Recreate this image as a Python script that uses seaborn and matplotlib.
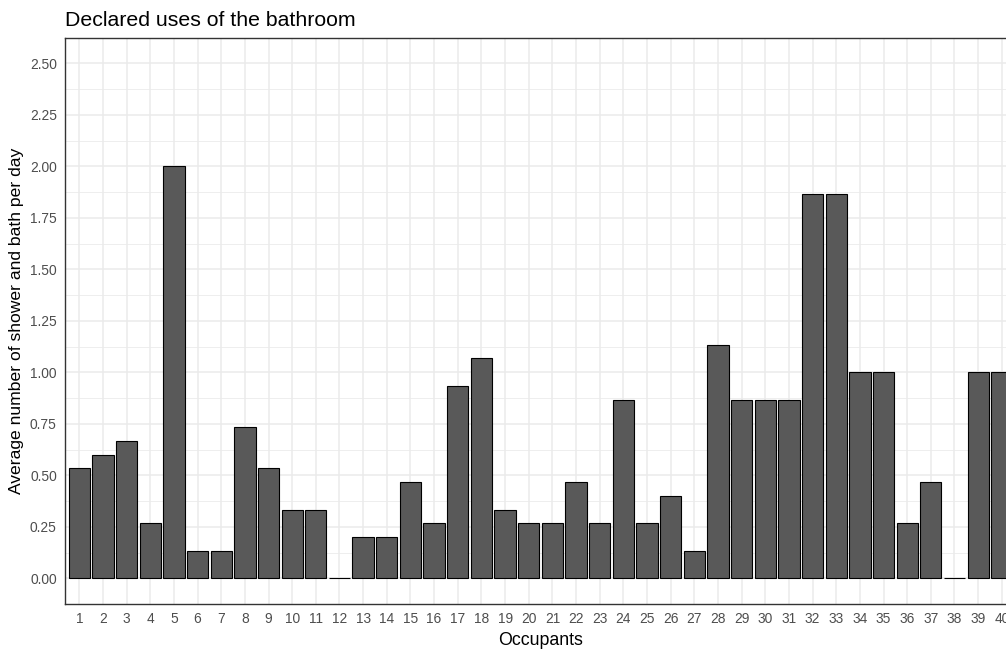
import matplotlib
matplotlib.use("Agg")
import matplotlib.pyplot as plt
from matplotlib.ticker import FixedLocator
import seaborn as sns
import pandas as pd

occupants = [str(i) for i in range(1, 41)]
uses_per_day = [0.533, 0.600, 0.667, 0.267, 2.000, 0.133, 0.133, 0.733, 0.533, 0.333,
                0.333, 0.000, 0.200, 0.200, 0.467, 0.267, 0.933, 1.067, 0.333, 0.267,
                0.267, 0.467, 0.267, 0.867, 0.267, 0.400, 0.133, 1.133, 0.867, 0.867,
                0.867, 1.867, 1.867, 1.000, 1.000, 0.267, 0.467, 0.000, 1.000, 1.000]
y_ticks = [0.0, 0.25, 0.5, 0.75, 1.0, 1.25, 1.5, 1.75, 2.0, 2.25, 2.5]
y_tick_labels = ["0.00", "0.25", "0.50", "0.75", "1.00", "1.25", "1.50", "1.75", "2.00", "2.25", "2.50"]

df = pd.DataFrame({"Occupants": occupants, "value": uses_per_day})

sns.set_theme(style="white")
plt.rcParams["font.family"] = ["Liberation Sans", "DejaVu Sans"]

W, H = 1006, 650
fig = plt.figure(figsize=(W / 100, H / 100), dpi=100)
left, right, top, bottom = 65.1, 1016, 37.5, 604
ax = fig.add_axes([left / W, (H - bottom) / H, (right - left) / W, (bottom - top) / H])

sns.barplot(data=df, x="Occupants", y="value", order=occupants, color="#595959",
            saturation=1, width=0.9, edgecolor="black", linewidth=0.8, ax=ax, zorder=3)

ax.set_xlim(-0.6, len(occupants) - 0.4)
ax.set_ylim(-0.125, 2.625)
ax.yaxis.set_major_locator(FixedLocator(y_ticks))
ax.set_yticklabels(y_tick_labels)
ax.yaxis.set_minor_locator(FixedLocator([t + 0.125 for t in y_ticks[:-1]]))

ax.set_axisbelow(True)
ax.grid(which="major", axis="both", color="#EBEBEB", linewidth=1.1, zorder=0)
ax.grid(which="minor", axis="y", color="#EBEBEB", linewidth=0.6, zorder=0)

for s in ax.spines.values():
    s.set_color("#333333")
    s.set_linewidth(1.0)

ax.tick_params(axis="both", which="major", length=3.5, width=0.9, color="#333333",
               labelcolor="#4D4D4D", labelsize=9.9, pad=2.5)
ax.tick_params(axis="y", which="minor", length=0)

ax.set_xlabel("Occupants", fontsize=12.8, color="black", labelpad=4)
ax.set_ylabel("Average number of shower and bath per day", fontsize=12.6, color="black", labelpad=4)
ax.set_title("Declared uses of the bathroom", loc="left", fontsize=15.3, color="black", pad=8)

fig.savefig("out.png", dpi=100)
